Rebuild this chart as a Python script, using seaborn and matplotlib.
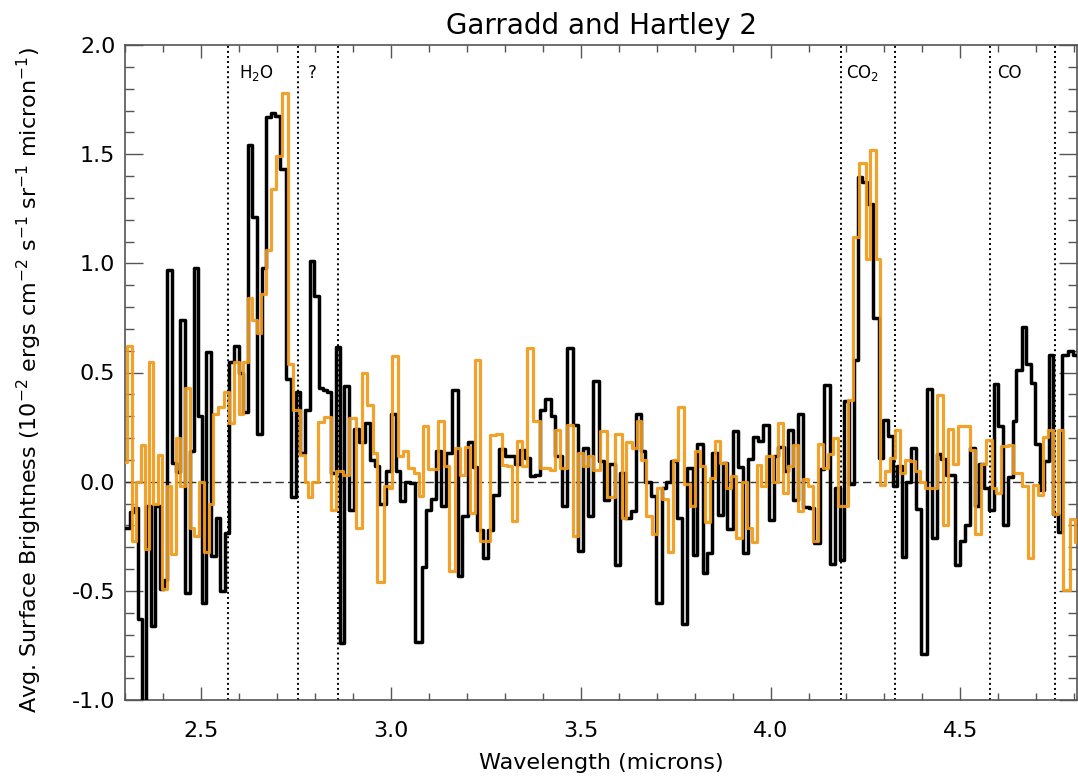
import matplotlib
matplotlib.use("Agg")
import matplotlib.pyplot as plt
import seaborn as sns
from matplotlib.ticker import MultipleLocator, FormatStrFormatter

# ---------------------------------------------------------------------------
# Spectra: left edge of each wavelength bin (microns) and the binned
# average surface brightness (1e-2 erg cm^-2 s^-1 sr^-1 micron^-1).
# ---------------------------------------------------------------------------
hartley_left = [
    2.301, 2.314, 2.323, 2.333, 2.345, 2.356, 2.368, 2.380, 2.391, 2.402,
    2.411, 2.424, 2.435, 2.446, 2.457, 2.470, 2.481, 2.492, 2.503, 2.514,
    2.526, 2.540, 2.551, 2.564, 2.575, 2.588, 2.600, 2.611, 2.624, 2.635,
    2.647, 2.661, 2.672, 2.685, 2.696, 2.707, 2.723, 2.738, 2.749, 2.761,
    2.775, 2.786, 2.799, 2.810, 2.821, 2.832, 2.843, 2.856, 2.867, 2.878,
    2.891, 2.904, 2.916, 2.932, 2.945, 2.958, 2.970, 2.988, 3.000, 3.013,
    3.025, 3.038, 3.051, 3.064, 3.081, 3.093, 3.107, 3.120, 3.133, 3.146,
    3.160, 3.176, 3.188, 3.203, 3.217, 3.228, 3.244, 3.257, 3.270, 3.286,
    3.301, 3.314, 3.327, 3.340, 3.353, 3.367, 3.380, 3.393, 3.406, 3.421,
    3.432, 3.450, 3.463, 3.481, 3.494, 3.505, 3.520, 3.533, 3.549, 3.561,
    3.575, 3.590, 3.603, 3.617, 3.632, 3.646, 3.658, 3.669, 3.684, 3.698,
    3.713, 3.725, 3.739, 3.753, 3.766, 3.781, 3.795, 3.807, 3.821, 3.833,
    3.847, 3.862, 3.874, 3.886, 3.900, 3.915, 3.928, 3.941, 3.954, 3.967,
    3.981, 3.996, 4.009, 4.020, 4.035, 4.046, 4.060, 4.073, 4.086, 4.100,
    4.114, 4.130, 4.140, 4.156, 4.169, 4.182, 4.194, 4.206, 4.219, 4.231,
    4.242, 4.253, 4.270, 4.286, 4.296, 4.310, 4.323, 4.333, 4.345, 4.358,
    4.371, 4.384, 4.397, 4.412, 4.426, 4.439, 4.450, 4.463, 4.474, 4.485,
    4.498, 4.511, 4.525, 4.538, 4.549, 4.561, 4.575, 4.588, 4.599, 4.612,
    4.625, 4.639, 4.647, 4.661, 4.674, 4.687, 4.696, 4.709, 4.719, 4.733,
    4.744, 4.757, 4.768, 4.783, 4.796,
]
hartley_flux = [
    -0.21, -0.14, -0.12, -0.63, -1.15, -0.11, -0.66, -0.11, -0.49, -0.45,
    0.97, 0.085, 0.043, 0.74, -0.51, 0.14, 0.98, 0.30, -0.555, 0.595,
    -0.34, -0.165, -0.50, -0.235, 0.55, 0.62, 0.50, 0.32, 1.54, 1.21,
    0.22, 0.98, 1.67, 1.69, 1.675, 1.43, 0.47, -0.07, 0.41, 0.13,
    0.33, 1.01, 0.85, 0.43, 0.42, 0.41, 0.04, 0.615, -0.74, 0.44,
    -0.13, 0.24, 0.18, 0.27, 0.10, 0.07, -0.10, 0.05, 0.31, 0.05,
    -0.09, 0.0, -0.006, -0.735, -0.39, -0.13, -0.078, 0.14, -0.11, 0.13,
    0.42, -0.43, -0.155, 0.18, 0.067, -0.222, -0.349, -0.222, -0.06, 0.149,
    0.116, 0.119, 0.081, 0.146, 0.108, 0.024, 0.032, 0.326, 0.378, 0.302,
    0.116, -0.11, 0.61, 0.26, -0.316, 0.154, -0.155, 0.462, 0.093, -0.082,
    0.082, -0.38, 0.04, -0.166, -0.136, 0.309, 0.139, 0.0, -0.067, -0.555,
    -0.03, 0.0, 0.093, -0.166, -0.654, 0.062, -0.338, 0.172, -0.418, -0.326,
    0.131, -0.151, 0.085, -0.219, 0.23, 0.067, -0.325, 0.104, 0.204, 0.184,
    0.258, -0.174, 0.119, 0.159, 0.047, 0.238, -0.085, 0.309, -0.115, -0.12,
    -0.28, 0.058, 0.444, -0.375, -0.03, -0.36, 0.37, -0.01, 0.558, 1.396,
    1.373, 1.27, 0.748, 0.108, 0.283, 0.207, -0.02, 0.073, -0.344, 0.0,
    0.154, -0.125, -0.791, 0.424, -0.258, 0.128, 0.104, 0.032, 0.032, -0.38,
    -0.273, -0.197, 0.154, -0.113, 0.082, -0.03, -0.128, 0.448, 0.253, -0.197,
    0.021, 0.28, 0.512, 0.71, 0.54, 0.454, 0.174, -0.037, 0.093, 0.578,
    -0.146, -0.232, 0.58, 0.60, 0.58,
]

garradd_left = [
    2.300, 2.305, 2.318, 2.330, 2.342, 2.353, 2.363, 2.375, 2.387, 2.398,
    2.410, 2.421, 2.434, 2.446, 2.457, 2.470, 2.481, 2.494, 2.507, 2.520,
    2.533, 2.546, 2.560, 2.573, 2.586, 2.600, 2.611, 2.624, 2.635, 2.647,
    2.658, 2.672, 2.684, 2.697, 2.713, 2.729, 2.742, 2.761, 2.773, 2.782,
    2.793, 2.808, 2.823, 2.843, 2.856, 2.874, 2.891, 2.907, 2.923, 2.938,
    2.953, 2.964, 2.982, 2.994, 3.003, 3.020, 3.033, 3.046, 3.060, 3.073,
    3.086, 3.099, 3.112, 3.125, 3.139, 3.152, 3.169, 3.182, 3.196, 3.209,
    3.222, 3.235, 3.248, 3.261, 3.277, 3.292, 3.305, 3.318, 3.332, 3.345,
    3.358, 3.375, 3.393, 3.406, 3.419, 3.432, 3.446, 3.463, 3.481, 3.494,
    3.507, 3.520, 3.533, 3.551, 3.568, 3.590, 3.608, 3.619, 3.634, 3.647,
    3.660, 3.673, 3.687, 3.700, 3.713, 3.731, 3.744, 3.757, 3.772, 3.788,
    3.801, 3.814, 3.827, 3.840, 3.853, 3.868, 3.882, 3.895, 3.909, 3.924,
    3.939, 3.950, 3.963, 3.976, 3.989, 4.007, 4.020, 4.034, 4.046, 4.060,
    4.073, 4.086, 4.099, 4.112, 4.125, 4.138, 4.152, 4.165, 4.178, 4.191,
    4.204, 4.217, 4.233, 4.251, 4.263, 4.277, 4.289, 4.301, 4.314, 4.327,
    4.340, 4.353, 4.367, 4.380, 4.393, 4.406, 4.419, 4.439, 4.454, 4.468,
    4.481, 4.494, 4.511, 4.525, 4.538, 4.555, 4.568, 4.582, 4.595, 4.608,
    4.625, 4.639, 4.651, 4.663, 4.678, 4.691, 4.704, 4.718, 4.731, 4.744,
    4.757, 4.770, 4.788, 4.801,
]
garradd_flux = [
    0.09, 0.62, -0.27, 0.0, 0.17, -0.31, 0.55, -0.10, 0.12, -0.49,
    -0.02, -0.33, 0.20, -0.02, 0.43, -0.21, -0.25, 0.0, -0.32, -0.10,
    0.31, 0.34, 0.41, 0.27, 0.55, 0.31, 0.55, 0.84, 0.74, 0.68,
    0.86, 1.06, 1.34, 1.49, 1.78, 0.54, 0.33, 0.12, 0.0, -0.07,
    0.0, 0.275, 0.295, -0.13, 0.05, 0.03, 0.29, -0.21, 0.50, 0.35,
    0.13, -0.46, -0.02, -0.03, 0.576, 0.116, 0.139, 0.062, 0.04, -0.067,
    0.253, 0.058, 0.058, 0.276, 0.07, -0.41, 0.155, 0.032, 0.159, -0.143,
    0.555, -0.27, -0.27, 0.215, 0.22, 0.078, 0.07, -0.18, 0.185, 0.07,
    0.61, 0.276, 0.062, 0.062, 0.055, 0.238, 0.062, 0.26, -0.25, 0.13,
    0.07, 0.116, 0.055, 0.23, -0.07, 0.22, -0.165, 0.18, 0.154, 0.276,
    0.10, -0.155, -0.24, -0.03, -0.08, -0.32, 0.098, 0.34, -0.01, -0.11,
    0.14, 0.073, -0.186, 0.017, 0.184, 0.085, -0.03, 0.024, -0.258, 0.0,
    -0.21, -0.277, 0.078, -0.02, 0.116, 0.0, 0.268, -0.05, 0.07, 0.17,
    -0.136, 0.01, -0.02, -0.27, 0.174, 0.062, 0.128, 0.2, -0.11, -0.113,
    0.375, 1.12, 1.46, 1.02, 1.52, 1.02, -0.014, 0.047, 0.11, 0.238,
    0.04, 0.098, 0.093, 0.047, 0.0, -0.03, -0.03, 0.398, -0.2, 0.24,
    0.082, 0.256, 0.253, 0.146, -0.24, 0.082, 0.19, -0.03, -0.05, 0.165,
    0.17, 0.04, 0.04, -0.02, -0.35, -0.015, -0.06, 0.204, 0.238, -0.146,
    0.235, -0.494, -0.17, -0.277,
]

spectrum_end = 4.81

# Band positions (microns) marked by dotted lines, and their labels
band_edges = [2.570, 2.755, 2.860, 4.185, 4.327, 4.579, 4.748]
band_labels = ["H$_2$O", "?", "CO$_2$", "CO"]
band_label_x = [2.601, 2.780, 4.200, 4.597]
band_label_y = 1.87

assert len(hartley_left) == len(hartley_flux)
assert len(garradd_left) == len(garradd_flux)


def histogram_steps(left, flux, end):
    """Edges plus repeated last value so a steps-post line closes the last bin."""
    return list(left) + [end], list(flux) + [flux[-1]]


sns.set_style("ticks")
plt.rcParams["font.family"] = ["DejaVu Sans"]
plt.rcParams["axes.unicode_minus"] = False
plt.rcParams["text.color"] = "black"

fig = plt.figure(figsize=(10.78, 7.8), dpi=100)
ax = fig.add_axes([125 / 1078, 80 / 780, 952 / 1078, 655 / 780])

axis_grey = "#555555"
orange = "#F09A18"

hx, hy = histogram_steps(hartley_left, hartley_flux, spectrum_end)
gx, gy = histogram_steps(garradd_left, garradd_flux, spectrum_end)

sns.lineplot(x=hx, y=hy, ax=ax, color="black", lw=2.5, drawstyle="steps-post",
             estimator=None, sort=False, zorder=3)
sns.lineplot(x=gx, y=gy, ax=ax, color=orange, lw=2.3, alpha=0.92,
             drawstyle="steps-post", estimator=None, sort=False, zorder=4)

# zero level
ax.axhline(0.0, color="#333333", lw=1.0, ls=(0, (6, 3)), zorder=2)

# band boundaries
for x in band_edges:
    ax.axvline(x, color="black", lw=1.4, ls=(0, (1, 1.6)), zorder=2)
for x, lab in zip(band_label_x, band_labels):
    ax.text(x, band_label_y, lab, fontsize=12, ha="left", va="center",
            color="black", zorder=5)

ax.set_xlim(2.30, 4.807)
ax.set_ylim(-1.0, 2.0)

ax.xaxis.set_major_locator(MultipleLocator(0.5))
ax.xaxis.set_minor_locator(MultipleLocator(0.1))
ax.yaxis.set_major_locator(MultipleLocator(0.5))
ax.yaxis.set_minor_locator(MultipleLocator(0.1))
ax.xaxis.set_major_formatter(FormatStrFormatter("%.1f"))
ax.yaxis.set_major_formatter(FormatStrFormatter("%.1f"))

ax.tick_params(axis="both", which="both", direction="in", top=True, right=True,
               color=axis_grey, width=1.0, labelsize=16, labelcolor="black")
ax.tick_params(axis="x", which="major", length=9.4, pad=15)
ax.tick_params(axis="x", which="minor", length=4.8)
ax.tick_params(axis="y", which="major", length=13.3, pad=7)
ax.tick_params(axis="y", which="minor", length=6.8)

for side in ["left", "right", "top", "bottom"]:
    ax.spines[side].set_visible(True)
    ax.spines[side].set_color(axis_grey)
    ax.spines[side].set_linewidth(1.2)

ax.set_title("Garradd and Hartley 2", fontsize=20, pad=8, color="black")
fig.text(601 / 1078, 1 - 763 / 780, "Wavelength (microns)", fontsize=16,
         ha="center", va="center", color="black")
fig.text(29 / 1078, 1 - 380 / 780,
         "Avg. Surface Brightness (10$^{-2}$ ergs cm$^{-2}$ s$^{-1}$ sr$^{-1}$ micron$^{-1}$)",
         fontsize=16, rotation=90, ha="center", va="center", color="black")

fig.savefig("out.png", dpi=100)
